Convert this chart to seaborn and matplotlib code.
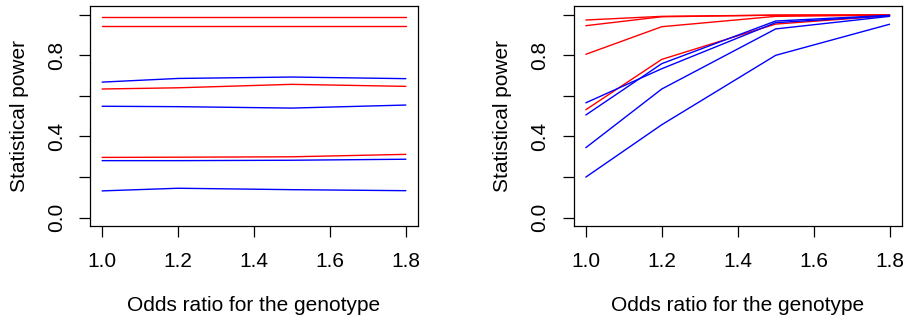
import numpy as np
import pandas as pd
import matplotlib
matplotlib.use("Agg")
import matplotlib.pyplot as plt
import seaborn as sns

odds = [1.0, 1.2, 1.5, 1.8]

# Left panel series
left_red_1 = [0.989, 0.989, 0.989, 0.989]
left_red_2 = [0.943, 0.943, 0.943, 0.943]
left_red_3 = [0.634, 0.640, 0.657, 0.647]
left_red_4 = [0.297, 0.298, 0.300, 0.312]
left_blue_1 = [0.668, 0.686, 0.693, 0.685]
left_blue_2 = [0.549, 0.547, 0.540, 0.555]
left_blue_3 = [0.281, 0.281, 0.283, 0.288]
left_blue_4 = [0.132, 0.145, 0.138, 0.133]

# Right panel series
right_red_1 = [0.974, 0.992, 0.998, 0.999]
right_red_2 = [0.946, 0.990, 0.998, 0.999]
right_red_3 = [0.805, 0.941, 0.992, 0.998]
right_red_4 = [0.532, 0.780, 0.954, 0.995]
right_blue_1 = [0.566, 0.734, 0.961, 0.995]
right_blue_2 = [0.506, 0.759, 0.969, 0.997]
right_blue_3 = [0.345, 0.634, 0.930, 0.992]
right_blue_4 = [0.200, 0.458, 0.800, 0.953]

xlabel = "Odds ratio for the genotype"
ylabel = "Statistical power"

sns.set_theme(style="white")
plt.rcParams["font.family"] = ["Liberation Sans", "DejaVu Sans"]


def build(series):
    rows = []
    for name, color, vals in series:
        for x, y in zip(odds, vals):
            rows.append({"odds": x, "power": y, "series": name, "color": color})
    return pd.DataFrame(rows)


left = build([
    ("r1", "red", left_red_1), ("r2", "red", left_red_2),
    ("r3", "red", left_red_3), ("r4", "red", left_red_4),
    ("b1", "blue", left_blue_1), ("b2", "blue", left_blue_2),
    ("b3", "blue", left_blue_3), ("b4", "blue", left_blue_4),
])
right = build([
    ("r1", "red", right_red_1), ("r2", "red", right_red_2),
    ("r3", "red", right_red_3), ("r4", "red", right_red_4),
    ("b1", "blue", right_blue_1), ("b2", "blue", right_blue_2),
    ("b3", "blue", right_blue_3), ("b4", "blue", right_blue_4),
])

fig = plt.figure(figsize=(9.09, 3.24), dpi=100)
ax1 = fig.add_axes([90 / 909, 1 - 226 / 324, 328 / 909, 220 / 324])
ax2 = fig.add_axes([573.7 / 909, 1 - 226 / 324, 328 / 909, 220 / 324])

fs = 15
for ax, df in [(ax1, left), (ax2, right)]:
    pal = dict(zip(df["series"], df["color"]))
    sns.lineplot(data=df, x="odds", y="power", hue="series", palette=pal,
                 legend=False, linewidth=1.0, ax=ax, estimator=None, sort=False)
    ax.set_xlim(0.968, 1.832)
    ax.set_ylim(-0.041, 1.043)
    ax.set_xticks([1.0, 1.2, 1.4, 1.6, 1.8])
    ax.set_xticklabels(["1.0", "1.2", "1.4", "1.6", "1.8"])
    ax.set_yticks([0.0, 0.2, 0.4, 0.6, 0.8, 1.0])
    ax.set_yticklabels(["0.0", "", "0.4", "", "0.8", ""], rotation=90, va="center")
    ax.tick_params(axis="both", direction="out", length=8, width=0.9, color="black",
                   labelsize=fs, labelcolor="black", left=True, bottom=True)
    ax.tick_params(axis="x", pad=10.5)
    ax.tick_params(axis="y", pad=9.5)
    for s in ax.spines.values():
        s.set_visible(True)
        s.set_color("black")
        s.set_linewidth(0.9)
    ax.set_xlabel(xlabel, fontsize=fs, labelpad=18.5, color="black")
    ax.set_ylabel(ylabel, fontsize=fs, labelpad=13, color="black")
    ax.grid(False)

fig.savefig("out.png", dpi=100)
